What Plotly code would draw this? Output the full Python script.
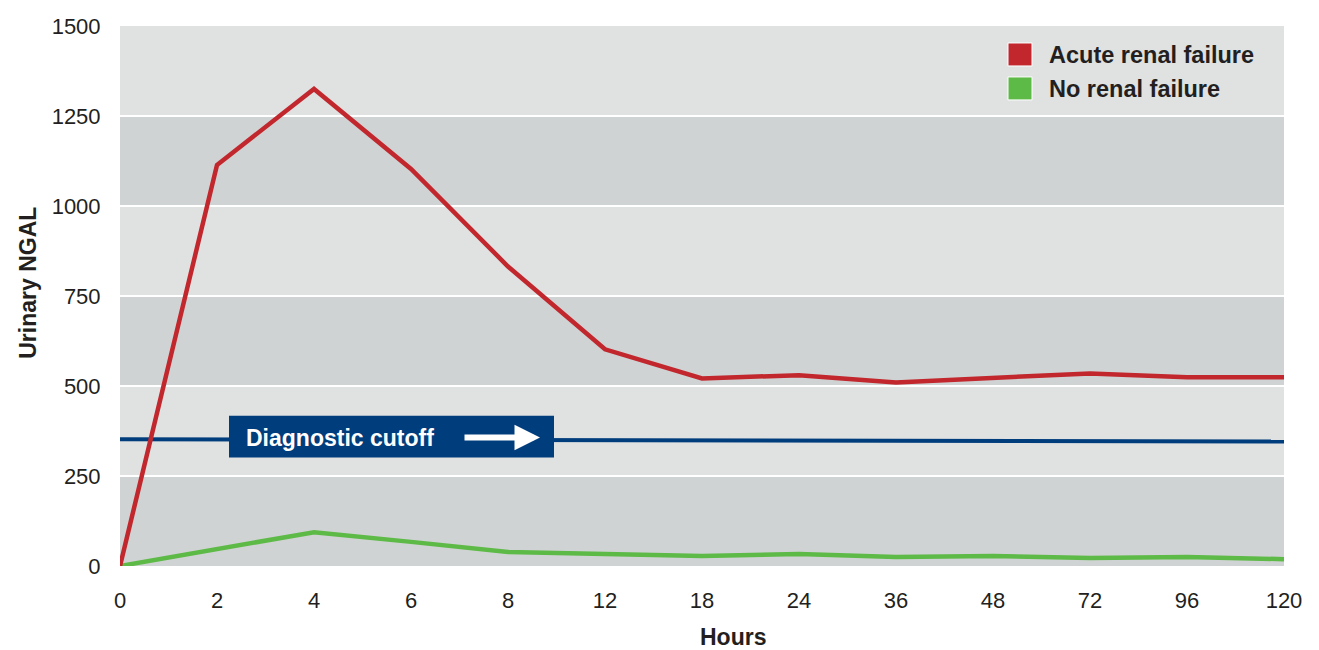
import plotly.graph_objects as go

hours = ["0", "2", "4", "6", "8", "12", "18", "24", "36", "48", "72", "96", "120"]
acute = [0, 1114, 1325, 1103, 832, 602, 521, 530, 510, 521, 535, 524, 524]
no_failure = [0, 47, 94, 67, 39, 33, 28, 33, 25, 28, 22, 25, 19]
cutoff = [352, 351.5, 351, 350.5, 350, 349.5, 349, 348.5, 348, 347.5, 347, 346.5, 346]
y_ticks = [0, 250, 500, 750, 1000, 1250, 1500]
series_names = ["Acute renal failure", "No renal failure"]

RED = "#c1272d"
GREEN = "#5dba47"
NAVY = "#003d7c"
LIGHT = "#e0e1e1"
DARK = "#d0d3d3"
TEXT = "#231f20"
FONT = "Liberation Sans, Arial, Helvetica, sans-serif"

# plot area in page pixels (page has an 8px body margin)
PL, PR, PT, PB = 120, 1284, 26, 566.5
PW, PH = PR - PL, PB - PT


def px(x):
    return (x - PL) / PW


def py(y):
    return (PB - y) / PH


fig = go.Figure()
fig.add_trace(go.Scatter(x=hours, y=cutoff, mode="lines",
                         line=dict(color=NAVY, width=4), showlegend=False, hoverinfo="skip"))
fig.add_trace(go.Scatter(x=hours, y=no_failure, mode="lines", name=series_names[1],
                         line=dict(color=GREEN, width=4.5), showlegend=False))
fig.add_trace(go.Scatter(x=hours, y=acute, mode="lines", name=series_names[0],
                         line=dict(color=RED, width=4.5), showlegend=False))

shapes = []
for lo, hi in [(0, 250), (500, 750), (1000, 1250)]:
    shapes.append(dict(type="rect", xref="paper", yref="y", x0=0, x1=1, y0=lo, y1=hi,
                       fillcolor=DARK, line=dict(width=0), layer="below"))
shapes.append(dict(type="rect", xref="paper", yref="paper", x0=px(229), x1=px(554),
                   y0=py(458), y1=py(416),
                   fillcolor=NAVY, line=dict(width=0), layer="above"))
for i, col in enumerate([RED, GREEN]):
    top = 43 + i * 34
    shapes.append(dict(type="rect", xref="paper", yref="paper",
                       x0=px(1008), x1=px(1032), y0=py(top + 23), y1=py(top),
                       fillcolor=col, line=dict(width=1, color="white"), layer="above"))

annotations = []
for i, name in enumerate(series_names):
    annotations.append(dict(xref="paper", yref="paper", x=px(1047),
                            y=py(55 + i * 34), xanchor="left", yanchor="middle",
                            text="<b>" + name + "</b>", showarrow=False,
                            font=dict(family=FONT, size=23.5, color=TEXT)))
annotations.append(dict(xref="paper", yref="paper", x=px(244),
                        y=py(438), xanchor="left", yanchor="middle",
                        text="<b>Diagnostic cutoff</b>", showarrow=False,
                        font=dict(family=FONT, size=23, color="white")))
annotations.append(dict(xref="paper", yref="paper", x=px(540),
                        y=py(438), ax=-77, ay=0, text="",
                        showarrow=True, arrowhead=2, arrowsize=0.85, arrowwidth=6,
                        arrowcolor="white", standoff=0))
annotations.append(dict(xref="paper", yref="paper", x=px(733),
                        y=py(638), xanchor="center", yanchor="middle",
                        text="<b>Hours</b>", showarrow=False,
                        font=dict(family=FONT, size=23, color=TEXT)))
annotations.append(dict(xref="paper", yref="paper", x=px(28),
                        y=py(283), xanchor="center", yanchor="middle",
                        text="<b>Urinary NGAL</b>", showarrow=False, textangle=-90,
                        font=dict(family=FONT, size=23, color=TEXT)))

fig.update_layout(
    width=1311, height=642,
    margin=dict(l=PL - 8, r=1319 - PR, t=PT - 8, b=642 + 8 - PB, autoexpand=False),
    paper_bgcolor="white", plot_bgcolor=LIGHT,
    shapes=shapes, annotations=annotations,
    font=dict(family=FONT, size=22, color=TEXT),
    xaxis=dict(type="category", range=[0, 12], showgrid=False, zeroline=False,
               showline=False, ticks="outside", ticklen=15, tickcolor="rgba(0,0,0,0)",
               automargin=False,
               tickfont=dict(family=FONT, size=22, color=TEXT)),
    yaxis=dict(range=[0, 1500], tickvals=y_ticks, showgrid=True, gridcolor="white",
               gridwidth=2, zeroline=False, showline=False, ticks="outside", ticklen=14,
               tickcolor="rgba(0,0,0,0)", automargin=False,
               tickfont=dict(family=FONT, size=22, color=TEXT)),
    showlegend=False,
)

fig.write_html("out.html")
